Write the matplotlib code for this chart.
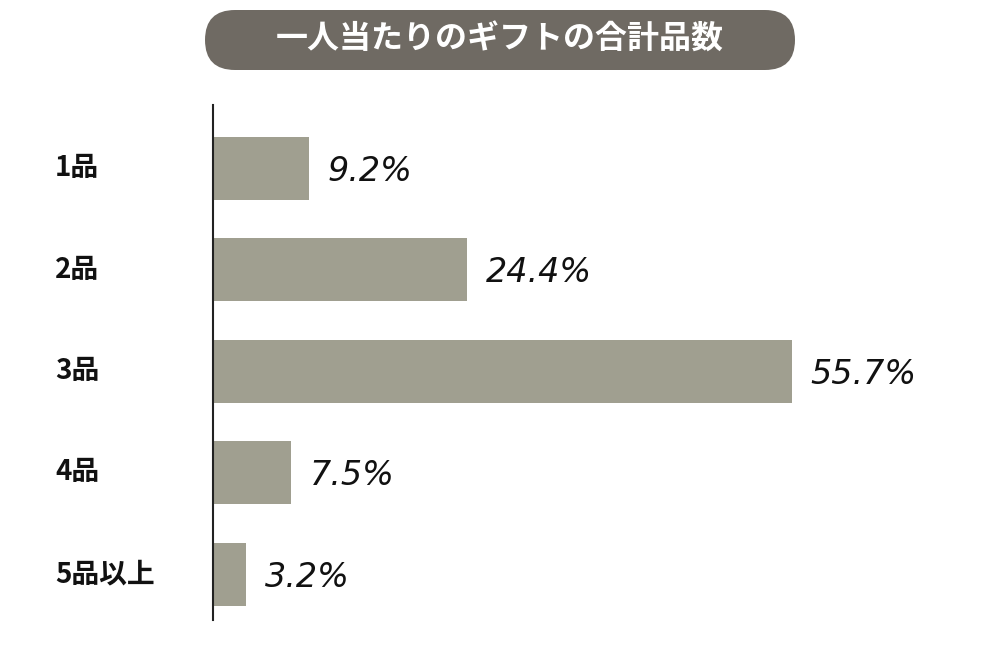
import matplotlib.pyplot as plt
from matplotlib.patches import FancyBboxPatch

plt.rcParams['font.family'] = ['Noto Sans CJK JP', 'DejaVu Sans']

categories = ['1品', '2品', '3品', '4品', '5品以上']
values = [9.2, 24.4, 55.7, 7.5, 3.2]
title = '一人当たりのギフトの合計品数'

fig = plt.figure(figsize=(10, 6.54), dpi=100)
ax = fig.add_axes([0.213, 0.052, 0.787, 0.787])

ax.barh(range(len(values)), values, height=0.62, color='#a09f90')
for i, v in enumerate(values):
    ax.text(v + 1.8, i + 0.03, f'{v}%', va='center', ha='left', fontsize=24,
            style='italic', color='#111111', family=['DejaVu Sans'])

ax.set_xlim(0, 75.7)
ax.set_ylim(4.45, -0.62)
for s in ['top', 'right', 'bottom']:
    ax.spines[s].set_visible(False)
ax.spines['left'].set_linewidth(1.5)
ax.spines['left'].set_color('#222222')
ax.set_xticks([])
ax.set_yticks([])

for i, c in enumerate(categories):
    fig.text(0.055, 1 - (168 + i * 101.5) / 654, c, ha='left', va='center',
             fontsize=20, fontweight='bold', color='#111111')

pill = FancyBboxPatch((2.05, 5.84), 5.9, 0.6, boxstyle='round,pad=0,rounding_size=0.3',
                      transform=fig.dpi_scale_trans, facecolor='#6f6a63', edgecolor='none')
fig.patches.append(pill)
fig.text(0.5, 1 - 40 / 654, title, ha='center', va='center', fontsize=23,
         fontweight='bold', color='white')

fig.savefig('out.png', dpi=100, facecolor='white')
